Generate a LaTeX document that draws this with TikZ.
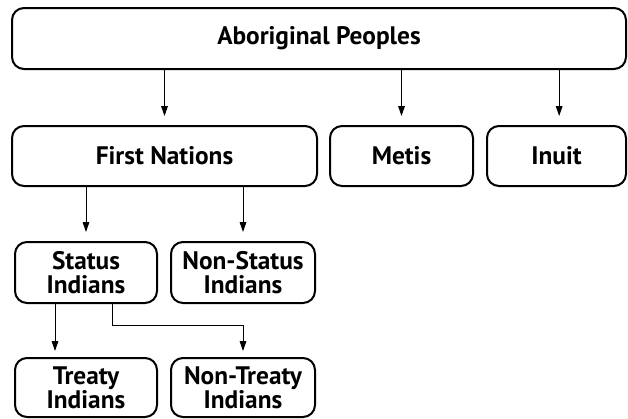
\documentclass[tikz,border=0pt]{standalone}
\usepackage{fontspec}
\setmainfont{PT Sans}
\usepackage{tikz}
\usetikzlibrary{arrows.meta,calc,positioning}
\definecolor{LineDark}{HTML}{000000}

\tikzset{
    catbox/.style={
        draw=LineDark,
        line width=1.5pt,
        rounded corners=9pt,
        align=center,
        inner sep=0pt,
        font=\bfseries\fontsize{19}{18}\selectfont
    },
    arr/.style={
        draw=LineDark,
        line width=0.75pt,
        -{Triangle[length=7.5pt,width=5pt]},
        shorten >=6.75pt
    }
}

\begin{document}
\begin{tikzpicture}[x=0.75pt,y=-0.75pt]
    \useasboundingbox (0,0) rectangle (628,418);

    % top level
    \node[catbox, minimum width=614*0.75pt, minimum height=61*0.75pt] (abor) at (319,38.5) {Aboriginal Peoples};

    % second level
    \node[catbox, minimum width=305*0.75pt, minimum height=60*0.75pt] (first) at (164.5,156) {First Nations};
    \node[catbox, minimum width=143*0.75pt, minimum height=60*0.75pt] (metis) at (401.5,156) {Metis};
    \node[catbox, minimum width=139*0.75pt, minimum height=60*0.75pt] (inuit) at (556.5,156) {Inuit};

    % third level
    \node[catbox, minimum width=142*0.75pt, minimum height=61*0.75pt] (status) at (86,272.5) {Status\\Indians};
    \node[catbox, minimum width=144*0.75pt, minimum height=61*0.75pt] (nonstatus) at (243,272.5) {Non-Status\\Indians};

    % fourth level
    \node[catbox, minimum width=142*0.75pt, minimum height=59*0.75pt] (treaty) at (86,387.5) {Treaty\\Indians};
    \node[catbox, minimum width=144*0.75pt, minimum height=59*0.75pt] (nontreaty) at (243,387.5) {Non-Treaty\\Indians};

    % connectors
    \draw[arr] (first.north |- abor.south) -- (first.north);
    \draw[arr] (metis.north |- abor.south) -- (metis.north);
    \draw[arr] ([xshift=2pt]inuit.north |- abor.south) -- ([xshift=2pt]inuit.north);
    \draw[arr] (status.north |- first.south) -- (status.north);
    \draw[arr] (nonstatus.north |- first.south) -- (nonstatus.north);
    \draw[arr, shorten >=4.5pt] ($(status.south)+(-31,0)$) -- ($(treaty.north)+(-31,0)$);
    \draw[arr, shorten >=4.5pt] ($(status.south)+(26,0)$) -- ++(0,21) -| (nontreaty.north);
\end{tikzpicture}
\end{document}
